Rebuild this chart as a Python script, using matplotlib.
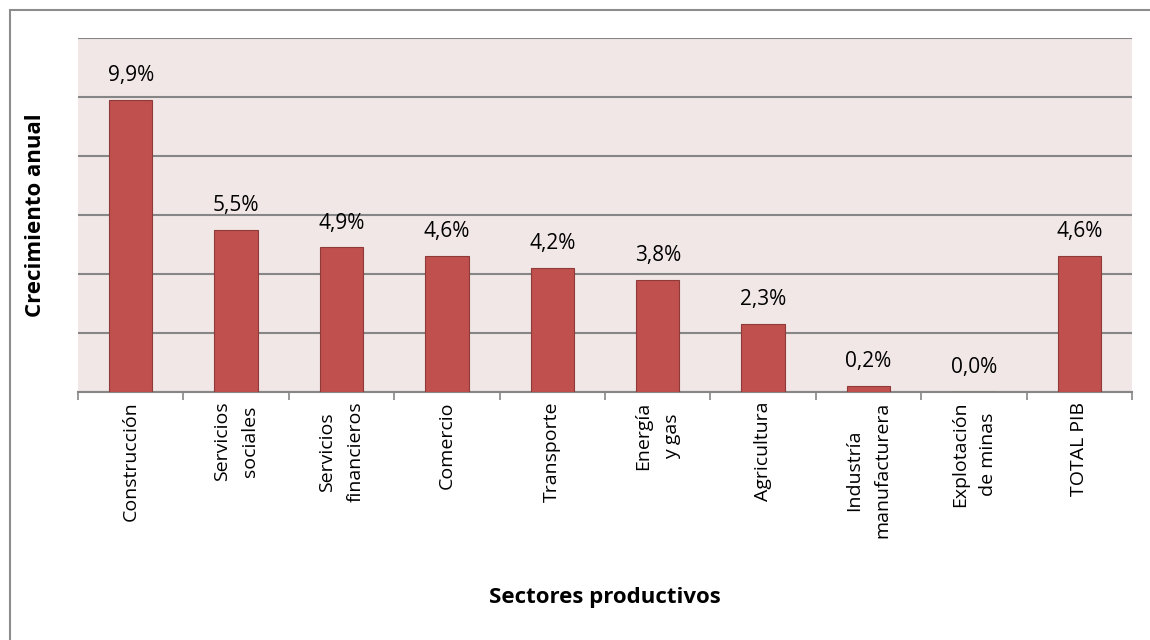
import numpy as np
import matplotlib
matplotlib.use("Agg")
import matplotlib.pyplot as plt
from matplotlib.patches import Rectangle

plt.rcParams['font.family'] = ['Open Sans', 'DejaVu Sans']

sectores = ["Construcción", "Servicios\nsociales", "Servicios\nfinancieros", "Comercio",
            "Transporte", "Energía\ny gas", "Agricultura", "Industría\nmanufacturera",
            "Explotación\nde minas", "TOTAL PIB"]
crecimiento = [9.9, 5.5, 4.9, 4.6, 4.2, 3.8, 2.3, 0.2, 0.0, 4.6]
etiquetas = ["9,9%", "5,5%", "4,9%", "4,6%", "4,2%", "3,8%", "2,3%", "0,2%", "0,0%", "4,6%"]

fig = plt.figure(figsize=(11.5, 6.4), dpi=100)
# marco exterior (recortado a la derecha y abajo)
fig.patches.append(Rectangle((9.5, -600), 1200, 640 - 9.5 + 600, transform=None, fill=False,
                             edgecolor="#8c8c8c", lw=1.5))
ax = fig.add_axes([78/1150, 1 - 392/640, (1132-78)/1150, (392-38)/640])
ax.set_facecolor("#f2e7e7")

x = np.arange(len(sectores))
ax.bar(x, crecimiento, width=0.41, color="#c0504d", edgecolor="#8e3a38", lw=0.8, zorder=3)
for xi, v, t in zip(x, crecimiento, etiquetas):
    ax.annotate(t, (xi, v), xytext=(0, 10), textcoords="offset points",
                ha="center", va="bottom", fontsize=15)

ax.set_xlim(-0.5, len(sectores) - 0.5)
ax.set_ylim(0, 12)
ax.set_yticks(np.arange(0, 13, 2))
ax.yaxis.grid(True, color="#868686", lw=1.5, zorder=1)
ax.tick_params(axis="y", left=False, labelleft=False)
ax.set_xticks(x)
ax.set_xticklabels(sectores, rotation=90, ha="center", va="top", multialignment="center",
                   fontsize=14, linespacing=1.75)
ax.set_xticks(np.arange(-0.5, len(sectores)), minor=True)
ax.tick_params(axis="x", which="major", length=0, pad=7)
ax.tick_params(axis="x", which="minor", length=6, width=1.2, color="#868686", direction="out")
for s in ["left", "right", "top"]:
    ax.spines[s].set_visible(False)
ax.spines["bottom"].set_color("#868686")
ax.spines["bottom"].set_linewidth(1.5)

fig.text(605/1150, 1 - 598/640, "Sectores productivos", ha="center", va="center",
         fontsize=16, fontweight="bold")
fig.text(36/1150, 1 - 215/640, "Crecimiento anual", ha="center", va="center",
         rotation=90, fontsize=16, fontweight="bold")

fig.savefig("out.png", dpi=100, facecolor="white")
